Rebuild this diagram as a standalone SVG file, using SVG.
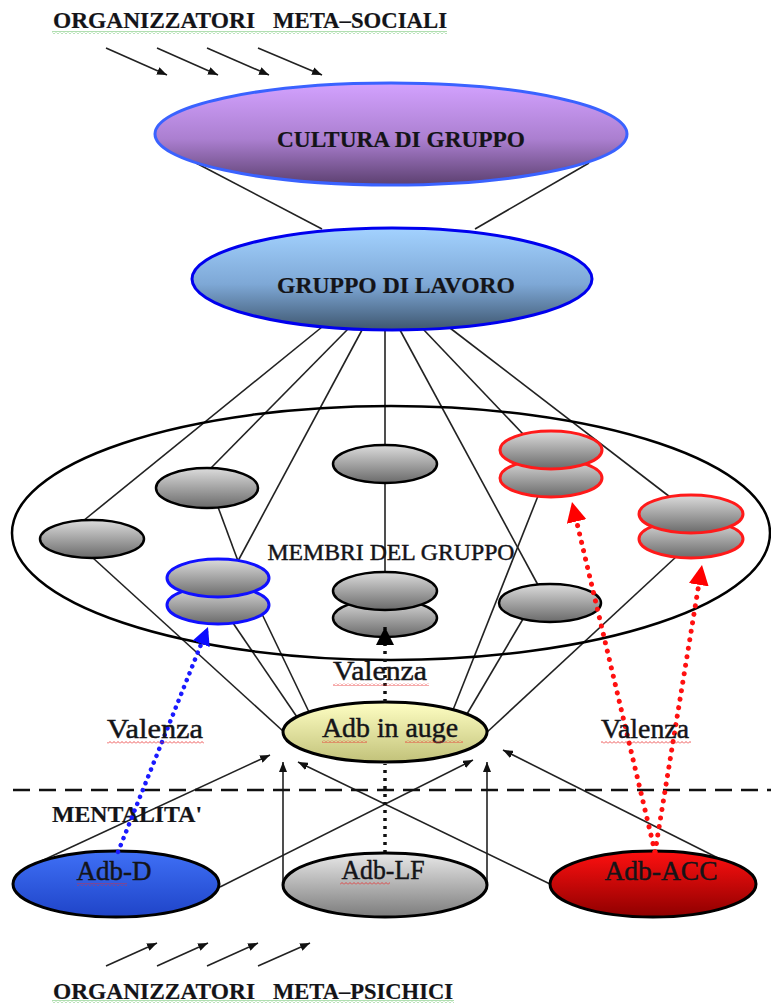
<svg xmlns="http://www.w3.org/2000/svg" width="771" height="1003" viewBox="0 0 771 1003">
<defs>
  <linearGradient id="gCult" x1="0" y1="0" x2="0" y2="1">
    <stop offset="0" stop-color="#d3a2ff"/><stop offset="0.55" stop-color="#ab7fd0"/><stop offset="1" stop-color="#5c4070"/>
  </linearGradient>
  <linearGradient id="gLav" x1="0" y1="0" x2="0" y2="1">
    <stop offset="0" stop-color="#a3d2ff"/><stop offset="0.55" stop-color="#7ea8d6"/><stop offset="1" stop-color="#3e566f"/>
  </linearGradient>
  <linearGradient id="gGray" x1="0" y1="0" x2="0" y2="1">
    <stop offset="0" stop-color="#dcdcdc"/><stop offset="1" stop-color="#6a6a6a"/>
  </linearGradient>
  <linearGradient id="gAuge" x1="0" y1="0" x2="0" y2="1">
    <stop offset="0" stop-color="#ffffc4"/><stop offset="1" stop-color="#c2c27a"/>
  </linearGradient>
  <linearGradient id="gBlue" x1="0" y1="0" x2="0" y2="1">
    <stop offset="0" stop-color="#3f70f6"/><stop offset="1" stop-color="#1f44c8"/>
  </linearGradient>
  <linearGradient id="gLF" x1="0" y1="0" x2="0" y2="1">
    <stop offset="0" stop-color="#e8e8e8"/><stop offset="1" stop-color="#7c7c7c"/>
  </linearGradient>
  <linearGradient id="gRed" x1="0" y1="0" x2="0" y2="1">
    <stop offset="0" stop-color="#ff1010"/><stop offset="1" stop-color="#8e0000"/>
  </linearGradient>
  <marker id="mS" viewBox="0 0 10 8" refX="10" refY="4" markerWidth="10" markerHeight="8" orient="auto" markerUnits="userSpaceOnUse">
    <path d="M0,0 L10,4 L0,8 z" fill="#111"/>
  </marker>
  <marker id="mK" viewBox="0 0 18 18" refX="18" refY="9" markerWidth="18" markerHeight="18" orient="auto" markerUnits="userSpaceOnUse">
    <path d="M0,0 L18,9 L0,18 z" fill="#000"/>
  </marker>
  <marker id="mBl" viewBox="0 0 18 18" refX="18" refY="9" markerWidth="18" markerHeight="18" orient="auto" markerUnits="userSpaceOnUse">
    <path d="M0,0 L18,9 L0,18 z" fill="#0a0aff"/>
  </marker>
  <marker id="mRd" viewBox="0 0 20 20" refX="20" refY="10" markerWidth="20" markerHeight="20" orient="auto" markerUnits="userSpaceOnUse">
    <path d="M0,0 L20,10 L0,20 z" fill="#ff0000"/>
  </marker>
  <pattern id="wr" width="4" height="3" patternUnits="userSpaceOnUse">
    <path d="M0,2.5 L2,0.5 L4,2.5" fill="none" stroke="#e82a2a" stroke-width="0.8"/>
  </pattern>
  <pattern id="wg" width="4" height="3" patternUnits="userSpaceOnUse">
    <path d="M0,2.5 L2,0.5 L4,2.5" fill="none" stroke="#3cae3c" stroke-width="0.8"/>
  </pattern>
</defs>
<style>
  .t{font-family:"Liberation Serif","Times New Roman",serif;fill:#141418;stroke:#141418;stroke-width:0.45}
  .b{font-weight:bold;stroke-width:0.2}
  .ln{stroke:#222;stroke-width:1.6;fill:none}
  .ar{stroke:#222;stroke-width:1.6;fill:none;marker-end:url(#mS)}
  .mem{fill:url(#gGray);stroke:#000;stroke-width:2.5}
  .memB{fill:url(#gGray);stroke:#1010ff;stroke-width:3}
  .memR{fill:url(#gGray);stroke:#ff1a1a;stroke-width:3}
  .sq{fill:url(#wr)}
</style>
<rect width="771" height="1003" fill="#fff"/>

<!-- organizers top -->
<g id="org-meta-sociali">
  <text class="t b" y="28" font-size="23"><tspan x="53" textLength="202" lengthAdjust="spacingAndGlyphs">ORGANIZZATORI</tspan><tspan x="273" textLength="174" lengthAdjust="spacingAndGlyphs">META–SOCIALI</tspan></text>
  <rect x="52" y="31" width="395" height="3" fill="url(#wg)"/>
  <line class="ar" x1="106" y1="48" x2="167" y2="75"/>
  <line class="ar" x1="157" y1="48" x2="218" y2="75"/>
  <line class="ar" x1="207" y1="48" x2="269" y2="75"/>
  <line class="ar" x1="258" y1="48" x2="322" y2="75"/>
</g>

<!-- connectors -->
<g id="connectors">
  <line class="ln" x1="196" y1="163" x2="322" y2="229"/>
  <line class="ln" x1="589" y1="163" x2="475" y2="229"/>
  <line class="ln" x1="322" y1="327" x2="83" y2="521"/>
  <line class="ln" x1="348" y1="329" x2="210" y2="469"/>
  <line class="ln" x1="362" y1="330" x2="238" y2="561"/>
  <line class="ln" x1="385" y1="330" x2="385" y2="573"/>
  <line class="ln" x1="400" y1="330" x2="538" y2="585"/>
  <line class="ln" x1="423" y1="329" x2="523" y2="434"/>
  <line class="ln" x1="450" y1="328" x2="670" y2="497"/>
  <line class="ln" x1="218" y1="507" x2="238" y2="561"/>
  <line class="ln" x1="93" y1="558" x2="284" y2="732"/>
  <line class="ln" x1="233" y1="623" x2="297" y2="717"/>
  <line class="ln" x1="262" y1="614" x2="309" y2="712"/>
  <line class="ln" x1="538" y1="496" x2="453" y2="710"/>
  <line class="ln" x1="523" y1="619" x2="467" y2="714"/>
  <line class="ln" x1="677" y1="556" x2="485" y2="734"/>
  <line class="ar" x1="37" y1="863" x2="270" y2="755"/>
  <line class="ar" x1="220" y1="887" x2="473" y2="760"/>
  <line class="ar" x1="283" y1="885" x2="283" y2="762"/>
  <line class="ar" x1="487" y1="885" x2="487" y2="762"/>
  <line class="ar" x1="550" y1="884" x2="298" y2="762"/>
  <line class="ar" x1="720" y1="859" x2="503" y2="750"/>
  <line x1="385" y1="853" x2="385" y2="764" stroke="#111" stroke-width="3.5" stroke-dasharray="3 5"/>
</g>

<!-- nodes -->
<g id="cultura-di-gruppo">
  <ellipse cx="391" cy="134" rx="236" ry="51" fill="url(#gCult)" stroke="#3a62ff" stroke-width="3"/>
  <text class="t b" x="401" y="147" font-size="23.5" text-anchor="middle" textLength="248" lengthAdjust="spacingAndGlyphs">CULTURA DI GRUPPO</text>
</g>
<g id="gruppo-di-lavoro">
  <ellipse cx="392" cy="279" rx="200" ry="51" fill="url(#gLav)" stroke="#0000ee" stroke-width="3"/>
  <text class="t b" x="396" y="293" font-size="23.5" text-anchor="middle" textLength="238" lengthAdjust="spacingAndGlyphs">GRUPPO DI LAVORO</text>
</g>
<g id="membri-del-gruppo">
  <ellipse cx="391" cy="533" rx="379" ry="127" fill="none" stroke="#000" stroke-width="2.5"/>
  <text class="t" x="391" y="560" font-size="23.5" text-anchor="middle" textLength="247" lengthAdjust="spacingAndGlyphs">MEMBRI DEL GRUPPO</text>
</g>
<g id="membro-1"><ellipse class="mem" cx="92" cy="539" rx="52" ry="19"/></g>
<g id="membro-2"><ellipse class="mem" cx="207" cy="488" rx="51" ry="20"/></g>
<g id="membro-3"><ellipse class="mem" cx="385" cy="464" rx="52" ry="19"/></g>
<g id="membro-4"><ellipse class="mem" cx="550" cy="603" rx="51" ry="19"/></g>
<g id="membro-blu">
  <ellipse class="memB" cx="218" cy="605" rx="51" ry="19"/>
  <ellipse class="memB" cx="218" cy="578" rx="51" ry="19"/>
</g>
<g id="membro-centrale">
  <ellipse class="mem" cx="385" cy="618" rx="52" ry="19"/>
  <ellipse class="mem" cx="385" cy="591" rx="52" ry="19"/>
</g>
<g id="membro-rosso-1">
  <ellipse class="memR" cx="551" cy="478" rx="51" ry="19"/>
  <ellipse class="memR" cx="551" cy="450" rx="51" ry="19"/>
</g>
<g id="membro-rosso-2">
  <ellipse class="memR" cx="691" cy="539" rx="52" ry="19"/>
  <ellipse class="memR" cx="691" cy="514" rx="52" ry="19"/>
</g>
<g id="adb-in-auge">
  <ellipse cx="385" cy="732" rx="102" ry="30" fill="url(#gAuge)" stroke="#000" stroke-width="3"/>
  <text class="t" x="390" y="737" font-size="27" text-anchor="middle" textLength="136" lengthAdjust="spacingAndGlyphs">Adb in auge</text>
  <rect class="sq" x="322" y="740" width="45" height="3"/>
  <rect class="sq" x="405" y="740" width="58" height="3"/>
</g>
<g id="adb-d">
  <ellipse cx="116" cy="884" rx="103" ry="33" fill="url(#gBlue)" stroke="#000" stroke-width="3"/>
  <text class="t" x="114" y="880" font-size="27" text-anchor="middle" textLength="75" lengthAdjust="spacingAndGlyphs">Adb-D</text>
  <rect class="sq" x="77" y="883" width="50" height="3"/>
</g>
<g id="adb-lf">
  <ellipse cx="385" cy="885" rx="102" ry="32" fill="url(#gLF)" stroke="#000" stroke-width="3"/>
  <text class="t" x="383" y="879" font-size="27" text-anchor="middle" textLength="83" lengthAdjust="spacingAndGlyphs">Adb-LF</text>
  <rect class="sq" x="340" y="882" width="50" height="3"/>
</g>
<g id="adb-acc">
  <ellipse cx="653" cy="884" rx="103" ry="33" fill="url(#gRed)" stroke="#000" stroke-width="3"/>
  <text class="t" x="661" y="880" font-size="27" text-anchor="middle" textLength="113" lengthAdjust="spacingAndGlyphs">Adb-ACC</text>
</g>

<!-- mentality boundary -->
<g id="mentalita">
  <line x1="13" y1="790" x2="771" y2="790" stroke="#111" stroke-width="2.6" stroke-dasharray="17 9"/>
  <text class="t b" x="52" y="822" font-size="23" textLength="150" lengthAdjust="spacingAndGlyphs">MENTALITA'</text>
</g>

<!-- valence connectors -->
<g id="valenza-connectors">
  <line x1="385" y1="702" x2="385" y2="627" stroke="#111" stroke-width="3.5" stroke-dasharray="3 5" marker-end="url(#mK)"/>
  <line x1="118" y1="852" x2="208" y2="627" stroke="#1a1aff" stroke-width="4.5" stroke-linecap="round" stroke-dasharray="0.1 7.3" marker-end="url(#mBl)"/>
  <line x1="655" y1="852" x2="572" y2="502" stroke="#ff1010" stroke-width="5" stroke-linecap="round" stroke-dasharray="0.1 8.5" marker-end="url(#mRd)"/>
  <line x1="655" y1="852" x2="702" y2="565" stroke="#ff1010" stroke-width="5" stroke-linecap="round" stroke-dasharray="0.1 8.5" marker-end="url(#mRd)"/>
  <text class="t" x="380" y="680" font-size="27" text-anchor="middle" textLength="94" lengthAdjust="spacingAndGlyphs">Valenza</text>
  <rect class="sq" x="333" y="683" width="96" height="3"/>
  <text class="t" x="155" y="738" font-size="27" text-anchor="middle" textLength="96" lengthAdjust="spacingAndGlyphs">Valenza</text>
  <rect class="sq" x="107" y="741" width="97" height="3"/>
  <text class="t" x="645" y="738" font-size="27" text-anchor="middle" textLength="88" lengthAdjust="spacingAndGlyphs">Valenza</text>
  <rect class="sq" x="601" y="741" width="90" height="3"/>
</g>

<!-- organizers bottom -->
<g id="org-meta-psichici">
  <line class="ar" x1="106" y1="966" x2="157" y2="943"/>
  <line class="ar" x1="157" y1="966" x2="208" y2="943"/>
  <line class="ar" x1="207" y1="966" x2="258" y2="943"/>
  <line class="ar" x1="258" y1="966" x2="310" y2="943"/>
  <text class="t b" y="999" font-size="23"><tspan x="53" textLength="202" lengthAdjust="spacingAndGlyphs">ORGANIZZATORI</tspan><tspan x="273" textLength="180" lengthAdjust="spacingAndGlyphs">META–PSICHICI</tspan></text>
  <rect x="52" y="1000" width="402" height="3" fill="url(#wg)"/>
</g>
</svg>
